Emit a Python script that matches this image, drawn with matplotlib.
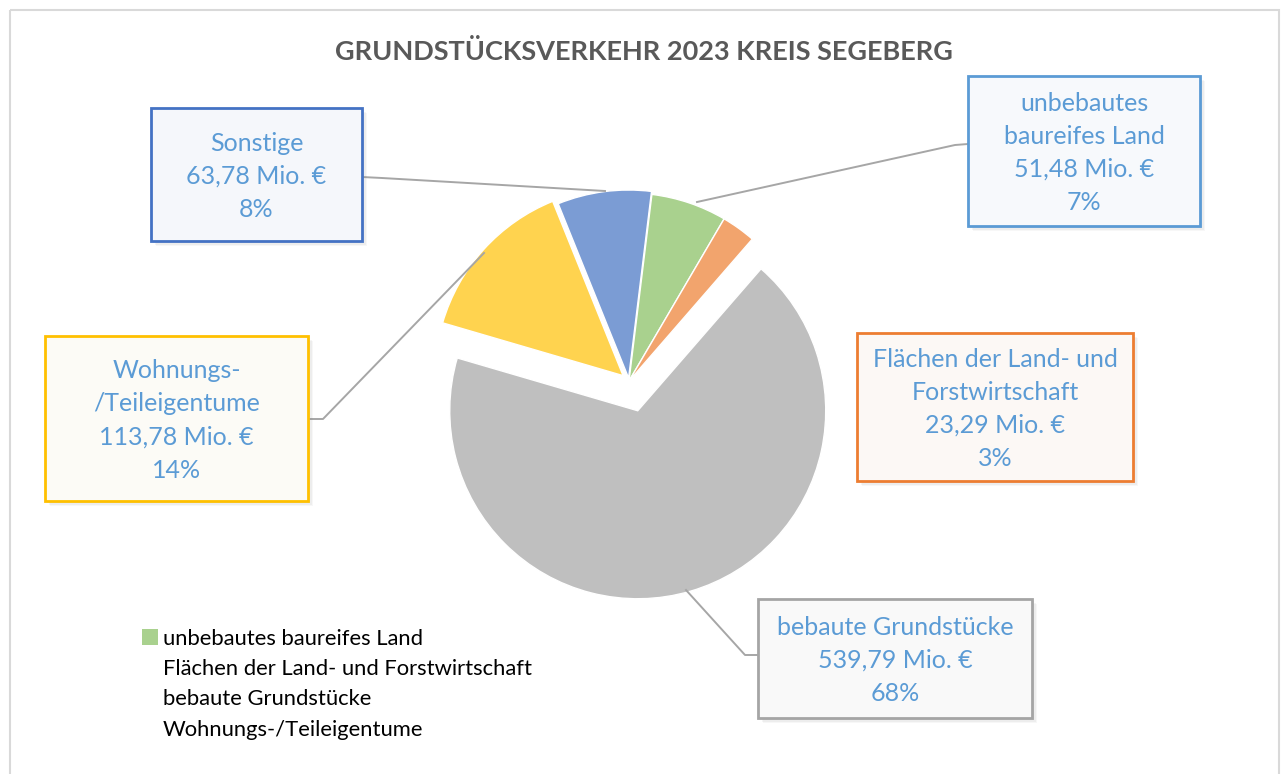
import matplotlib.pyplot as plt
from matplotlib.patches import Rectangle, Patch

categories = ["unbebautes baureifes Land", "Flächen der Land- und Forstwirtschaft",
              "bebaute Grundstücke", "Wohnungs-/Teileigentume", "Sonstige"]
values = [51.48, 23.29, 539.79, 113.78, 63.78]
percents = ["7%", "3%", "68%", "14%", "8%"]
box_titles = ["unbebautes\nbaureifes Land", "Flächen der Land- und\nForstwirtschaft",
              "bebaute Grundstücke", "Wohnungs-\n/Teileigentume", "Sonstige"]

colors = ["#A9D18E", "#F2A46D", "#BFBFBF", "#FFD34F", "#7B9CD4"]
borders = ["#5B9BD5", "#ED7D31", "#A5A5A5", "#FFC000", "#4472C4"]
fills = ["#F7F9FC", "#FCF8F5", "#F9F9F9", "#FCFBF6", "#F5F7FB"]
explode = [0, 0, 31, 8, 3]  # pixels here, since the axes are in pixel units

# label boxes (left, top, right, bottom) in pixels
boxes = [(968, 76, 1200, 226), (857, 333, 1133, 481), (758, 599, 1032, 718),
         (45, 336, 308, 501), (151, 108, 362, 241)]
# leader lines (box side -> elbow -> slice)
leaders = [[(968, 144), (955, 145), (697, 202)],
           None,
           [(758, 655), (745, 655), (686, 590)],
           [(308, 419), (323, 419), (484, 253)],
           [(362, 177), (382, 178), (605, 191)]]

plt.rcParams['font.family'] = ['Lato', 'DejaVu Sans']

fig = plt.figure(figsize=(12.84, 7.74), dpi=100)
ax = fig.add_axes([0, 0, 1, 1])

ax.pie(values, colors=colors, explode=explode, center=(629, 381), radius=188,
       startangle=277, counterclock=True, frame=True,
       wedgeprops=dict(edgecolor='white', linewidth=1))

ax.set_xlim(0, 1284)
ax.set_ylim(774, 0)
ax.set_aspect('equal')
ax.axis('off')

# outer chart border
ax.add_patch(Rectangle((10, 10), 1269, 780, fill=False, edgecolor='#D9D9D9', linewidth=1.5))

ax.text(644, 51, "GRUNDSTÜCKSVERKEHR 2023 KREIS SEGEBERG", ha='center', va='center',
        fontsize=19.5, fontweight='bold', color='#595959')

for i in range(len(values)):
    l, t, r, b = boxes[i]
    for k, a in enumerate([0.06, 0.08, 0.10]):
        d = 5 - k * 1.5
        ax.add_patch(Rectangle((l + d, t + d), r - l, b - t, facecolor='#808080',
                               edgecolor='none', alpha=a, zorder=3))
    ax.add_patch(Rectangle((l, t), r - l, b - t, facecolor=fills[i], edgecolor=borders[i],
                           linewidth=2, zorder=4))
    txt = f"{box_titles[i]}\n" + f"{values[i]:.2f}".replace('.', ',') + f" Mio. €\n{percents[i]}"
    ax.text((l + r) / 2, (t + b) / 2 + 2, txt, ha='center', va='center', fontsize=18,
            color='#5B9BD5', linespacing=1.53, zorder=5)
    if leaders[i]:
        xs, ys = zip(*leaders[i])
        ax.plot(xs, ys, color='#A6A6A6', linewidth=1.4, zorder=2)

handles = [Patch(facecolor=colors[0], edgecolor='none')] + \
          [Patch(facecolor='none', edgecolor='none') for _ in range(3)]
ax.legend(handles, categories[:4], loc='upper left', bbox_to_anchor=(133 / 1284, 1 - 620 / 774),
          frameon=False, fontsize=15.8, handlelength=0.75, handleheight=0.75,
          handletextpad=0.2, labelspacing=0.47, borderaxespad=0)

fig.savefig("out.png", dpi=100)
